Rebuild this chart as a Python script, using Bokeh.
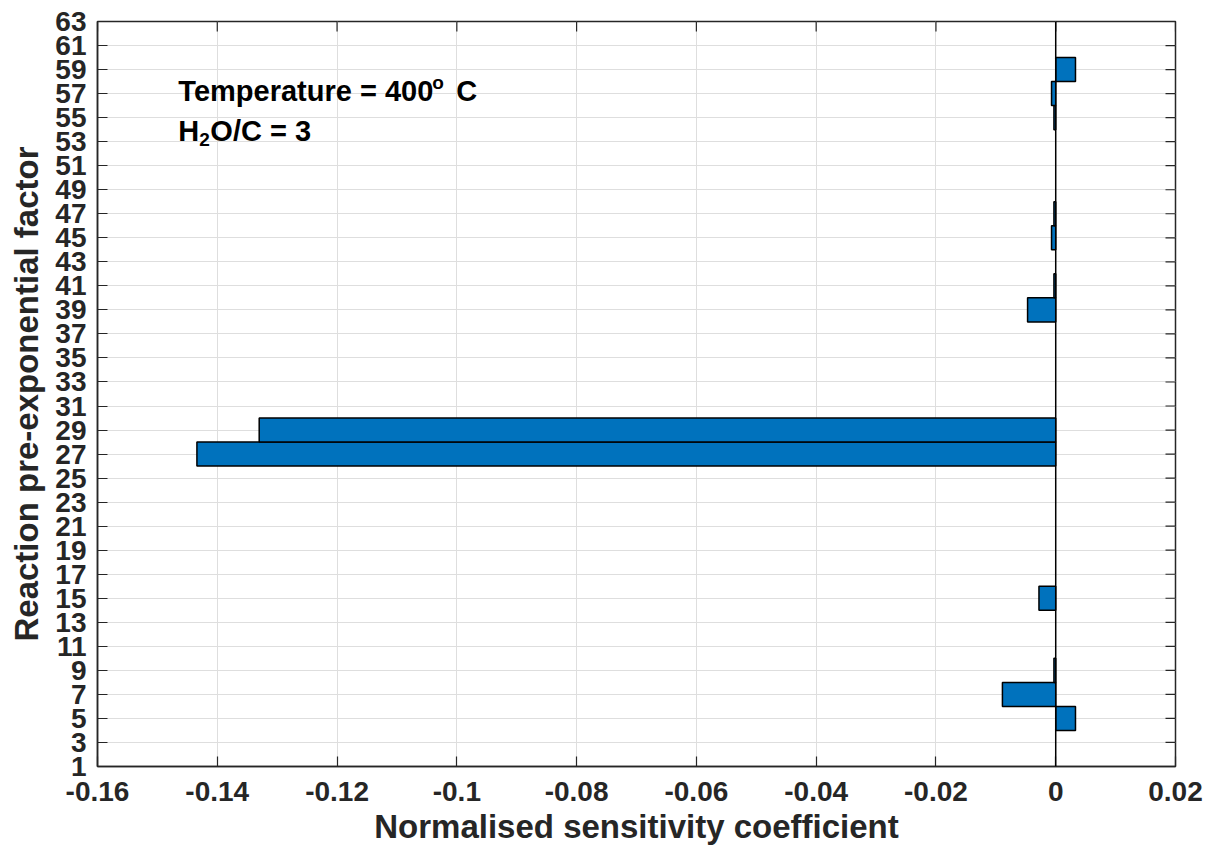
import math
from bokeh.plotting import figure
from bokeh.models import ColumnDataSource, FixedTicker, Span, Label, Range1d
from bokeh.embed import file_html
from bokeh.resources import INLINE

# ---- data ----
reactions = [5, 7, 9, 15, 27, 29, 39, 41, 45, 47, 55, 57, 59]
sensitivity = [0.0033, -0.0089, -0.0003, -0.0028, -0.1434, -0.1330, -0.0047,
               -0.0003, -0.0007, -0.0003, -0.0003, -0.0007, 0.0033]
x_ticks = [-0.16, -0.14, -0.12, -0.10, -0.08, -0.06, -0.04, -0.02, 0.0, 0.02]
x_tick_labels = ["-0.16", "-0.14", "-0.12", "-0.1", "-0.08", "-0.06", "-0.04", "-0.02", "0", "0.02"]
y_ticks = list(range(1, 64, 2))
x_title = "Normalised sensitivity coefficient"
y_title = "Reaction pre-exponential factor"

FONT = "Liberation Sans"
BAR_COLOR = "#0072BD"
AX_COLOR = "#262626"
GRID_COLOR = "#dedede"

x0, x1 = x_ticks[0], x_ticks[-1]
y0, y1 = y_ticks[0], y_ticks[-1]

src = ColumnDataSource(dict(y=reactions, right=sensitivity, left=[0.0] * len(reactions)))

p = figure(width=1210, height=847, output_backend="svg", toolbar_location=None,
           x_range=Range1d(x0, x1), y_range=Range1d(y0, y1),
           min_border_left=97, min_border_right=35, min_border_top=21, min_border_bottom=78)
p.outline_line_color = AX_COLOR
p.outline_line_width = 1.5
p.background_fill_color = "white"
p.border_fill_color = "white"

p.xgrid.ticker = FixedTicker(ticks=x_ticks)
p.ygrid.ticker = FixedTicker(ticks=y_ticks)
p.xgrid.grid_line_color = GRID_COLOR
p.ygrid.grid_line_color = GRID_COLOR
p.xgrid.grid_line_width = 1
p.ygrid.grid_line_width = 1

p.hbar(y="y", left="left", right="right", height=2, source=src,
       fill_color=BAR_COLOR, line_color="black", line_width=1.5)

p.add_layout(Span(location=0, dimension="height", line_color="black", line_width=1.5))

# axes styling
p.xaxis.ticker = FixedTicker(ticks=x_ticks)
p.yaxis.ticker = FixedTicker(ticks=y_ticks)
p.xaxis.major_label_overrides = {t: l for t, l in zip(x_ticks, x_tick_labels)}
for ax in (p.xaxis[0], p.yaxis[0]):
    ax.axis_line_color = AX_COLOR
    ax.axis_line_width = 1.5
    ax.major_tick_in = 10
    ax.major_tick_out = 0
    ax.major_tick_line_color = AX_COLOR
    ax.major_tick_line_width = 1.2
    ax.minor_tick_line_color = None
    ax.major_label_text_font = FONT
    ax.major_label_text_font_style = "bold"
    ax.major_label_text_font_size = "28px"
    ax.major_label_text_color = AX_COLOR
    ax.axis_label_text_font = FONT
    ax.axis_label_text_font_style = "bold"
    ax.axis_label_text_font_size = "33px"
    ax.axis_label_text_color = AX_COLOR
p.xaxis.major_label_standoff = 15
p.yaxis.major_label_standoff = 11
p.xaxis.axis_label = x_title
p.yaxis.axis_label = y_title
p.xaxis.axis_label_standoff = 4
p.yaxis.axis_label_standoff = 7

# mirrored ticks on the right and top edges (box style)
p.scatter(x=[x1] * len(y_ticks), y=y_ticks, marker="dash", size=20,
          line_color=AX_COLOR, line_width=1.2)
p.scatter(x=x_ticks, y=[y1] * len(x_ticks), marker="dash", size=20, angle=math.pi / 2,
          line_color=AX_COLOR, line_width=1.2)

# annotation
def lab(text, x, y, size, xo=0, yo=0):
    return Label(x=x, y=y, text=text, x_offset=xo, y_offset=yo,
                 text_font=FONT, text_font_style="bold", text_font_size=size,
                 text_color="black", text_baseline="middle", text_align="left")

tx, ty1, ty2 = -0.1465, 57.2, 53.9
p.add_layout(lab("Temperature = 400", tx, ty1, "29px"))
p.add_layout(lab("o", tx, ty1, "19px", xo=254, yo=9))
p.add_layout(lab("C", tx, ty1, "29px", xo=278))
p.add_layout(lab("H", tx, ty2, "29px"))
p.add_layout(lab("2", tx, ty2, "19px", xo=21, yo=-9))
p.add_layout(lab("O/C = 3", tx, ty2, "29px", xo=32))

open("out.html", "w").write(file_html(p, INLINE))
